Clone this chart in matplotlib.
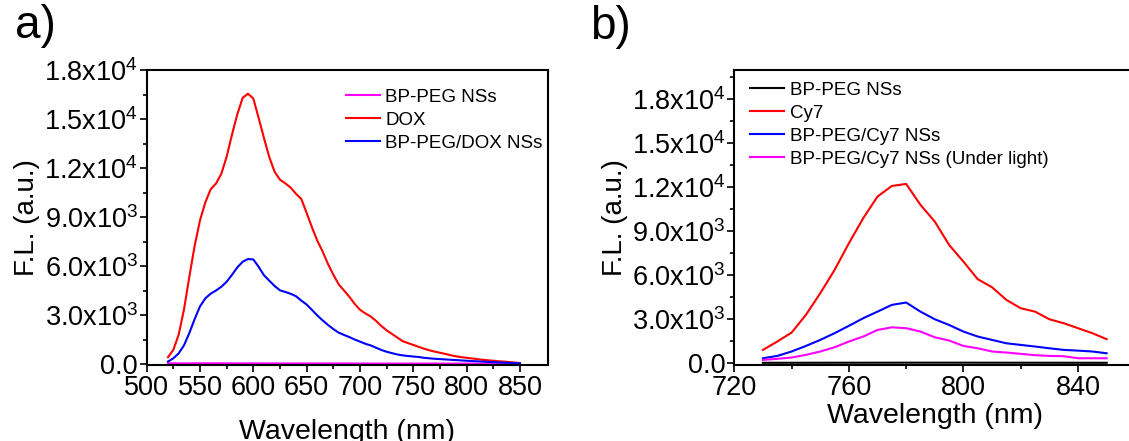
import matplotlib
matplotlib.use('Agg')
import matplotlib.pyplot as plt
from matplotlib.ticker import MultipleLocator, FixedLocator

plt.rcParams['font.family'] = ['Liberation Sans', 'DejaVu Sans']
plt.rcParams['mathtext.fontset'] = 'custom'
plt.rcParams['mathtext.rm'] = 'Liberation Sans'
plt.rcParams['mathtext.it'] = 'Liberation Sans:italic'
plt.rcParams['mathtext.bf'] = 'Liberation Sans:bold'

# ---- panel a: DOX loading ----
wl_a = [520, 525, 530, 535, 540, 545, 550, 555, 560, 565, 570, 575, 580, 585,
        590, 595, 600, 605, 610, 615, 620, 625, 630, 635, 640, 645, 650, 655,
        660, 665, 670, 675, 680, 685, 690, 695, 700, 705, 710, 715, 720, 725,
        730, 735, 740, 745, 750, 755, 760, 765, 770, 775, 780, 785, 790, 795,
        800, 805, 810, 815, 820, 825, 830, 835, 840, 845, 850]
dox = [420, 870, 1800, 3350, 5350, 7250, 8800, 9900, 10700, 11050, 11650, 12700,
       14050, 15300, 16300, 16550, 16250, 15050, 13830, 12650, 11760, 11280, 11060,
       10800, 10420, 10100, 9240, 8360, 7550, 6880, 6120, 5470, 4880, 4500, 4120,
       3680, 3320, 3100, 2910, 2640, 2330, 2060, 1840, 1620, 1400, 1280, 1170, 1050,
       940, 840, 760, 690, 620, 540, 470, 420, 380, 340, 300, 260, 230, 200, 170,
       150, 120, 90, 60]
bp_dox = [150, 350, 650, 1150, 1900, 2760, 3530, 4020, 4310, 4500, 4730, 5040,
          5460, 5920, 6260, 6430, 6400, 5950, 5430, 5100, 4770, 4510, 4410, 4300,
          4150, 3880, 3640, 3310, 2970, 2670, 2390, 2140, 1920, 1780, 1650, 1500,
          1370, 1240, 1140, 1000, 860, 750, 665, 585, 530, 490, 460, 430, 380, 350,
          320, 300, 280, 260, 240, 220, 200, 180, 165, 150, 130, 115, 100, 85, 70,
          55, 45]
wl_bp_a = [520, 560, 600, 640, 680, 720, 760, 800, 850]
bp_a = [40, 45, 40, 35, 35, 30, 30, 25, 20]

# ---- panel b: Cy7 loading ----
wl_b = [730, 735, 740, 745, 750, 755, 760, 765, 770, 775, 780, 785, 790, 795,
        800, 805, 810, 815, 820, 825, 830, 835, 840, 845, 850]
cy7 = [910, 1480, 2090, 3300, 4770, 6360, 8180, 9890, 11370, 12090, 12230, 10800,
       9660, 8070, 6930, 5730, 5180, 4320, 3750, 3520, 3000, 2730, 2390, 2050, 1640]
bp_cy7 = [340, 500, 800, 1180, 1590, 2050, 2550, 3070, 3520, 3980, 4140, 3520,
          3000, 2610, 2160, 1820, 1590, 1360, 1250, 1140, 1020, 910, 860, 800, 680]
bp_cy7_light = [230, 300, 390, 570, 800, 1090, 1480, 1820, 2270, 2450, 2390, 2160,
                1770, 1550, 1180, 1020, 800, 730, 640, 550, 500, 480, 340, 340, 340]
wl_bp_b = [730, 760, 790, 820, 850]
bp_b = [30, 35, 40, 35, 30]

yticks = [0, 3000, 6000, 9000, 12000, 15000, 18000]
ytick_labels = ['0.0', r'3.0x10$^{3}$', r'6.0x10$^{3}$', r'9.0x10$^{3}$',
                r'1.2x10$^{4}$', r'1.5x10$^{4}$', r'1.8x10$^{4}$']

W, H = 1129, 441
fig = plt.figure(figsize=(W / 100, H / 100), dpi=100)
ax_a = fig.add_axes([146.7 / W, 76 / H, 401 / W, 295 / H])
ax_b = fig.add_axes([734.3 / W, 76 / H, 401 / W, 295 / H])


def style(ax):
    for s in ax.spines.values():
        s.set_linewidth(1.5)
    ax.set_yticks(yticks)
    ax.set_yticklabels(ytick_labels)
    ax.yaxis.set_minor_locator(MultipleLocator(1500))
    ax.tick_params(which='major', direction='out', length=5, width=1.2,
                   labelsize=19.5, pad=1.2, top=False, right=False)
    ax.tick_params(which='minor', direction='out', length=3, width=1.2,
                   top=False, right=False)
    ax.tick_params(axis='x', which='major', pad=2.5)
    ax.set_ylabel('F.L. (a.u.)', fontsize=20, labelpad=3)


leg_kw = dict(loc='upper left', frameon=False, fontsize=13.5, handlelength=1.8,
              handletextpad=0.3, labelspacing=0.31, borderpad=0, borderaxespad=0)

lw = 1.5
ax_a.plot(wl_bp_a, bp_a, color='#ff00ff', lw=lw, label='BP-PEG NSs')
ax_a.plot(wl_a, dox, color='#ff0000', lw=lw, label='DOX')
ax_a.plot(wl_a, bp_dox, color='#0000ff', lw=lw, label='BP-PEG/DOX NSs')
style(ax_a)
ax_a.set_xlim(500, 876)
ax_a.set_ylim(-60, 18000)
ax_a.set_xticks(range(500, 851, 50))
ax_a.xaxis.set_minor_locator(FixedLocator(range(525, 851, 50)))
ax_a.set_xlabel('Wavelength (nm)', fontsize=20.5, labelpad=13)
ax_a.legend(bbox_to_anchor=(0.497, 0.936), **leg_kw)

ax_b.plot(wl_bp_b, bp_b, color='black', lw=lw, label='BP-PEG NSs')
ax_b.plot(wl_b, cy7, color='#ff0000', lw=lw, label='Cy7')
ax_b.plot(wl_b, bp_cy7, color='#0000ff', lw=lw, label='BP-PEG/Cy7 NSs')
ax_b.plot(wl_b, bp_cy7_light, color='#ff00ff', lw=lw,
          label='BP-PEG/Cy7 NSs (Under light)')
style(ax_b)
ax_b.set_xlim(720, 860)
ax_b.set_ylim(-120, 20000)
ax_b.set_xticks([720, 760, 800, 840])
ax_b.xaxis.set_minor_locator(FixedLocator([740, 780, 820]))
ax_b.set_xlabel('Wavelength (nm)', fontsize=20.5, labelpad=1)
ax_b.legend(bbox_to_anchor=(0.04, 0.96), **leg_kw)

fig.text(15 / W, 1 - 38 / H, 'a)', fontsize=33, va='baseline', ha='left')
fig.text(590 / W, 1 - 39 / H, 'b)', fontsize=33, va='baseline', ha='left')

fig.savefig('out.png', dpi=100)
